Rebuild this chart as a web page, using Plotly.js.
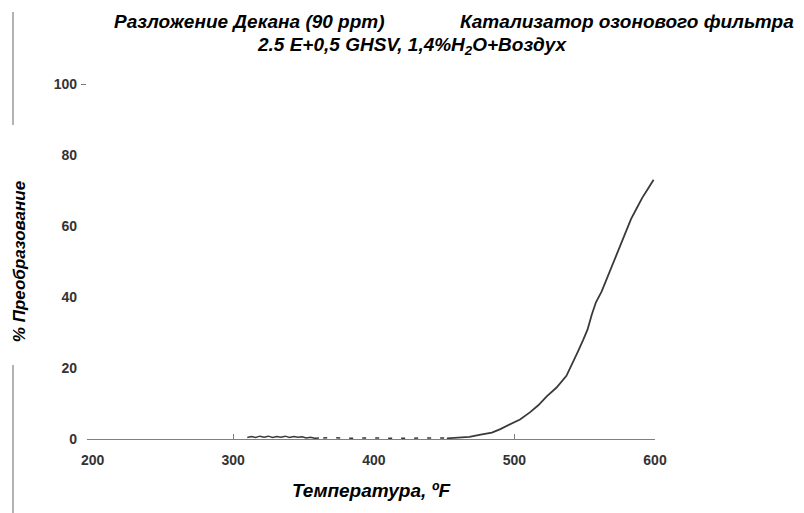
<!DOCTYPE html>
<html><head><meta charset="utf-8">
<script src="https://cdn.plot.ly/plotly-3.0.1.min.js"></script>
<style>html,body{margin:0;padding:0;background:#fff}#chart{width:804px;height:513px}</style>
</head><body><div id="chart"></div>
<script>
// Noisy baseline segment (solid)
const tempBase = [310,313,316,319,322,325,328,331,334,337,340,343,346,349,352,355,358,361];
const convBase = [0.4,0.7,0.4,0.8,0.5,0.8,0.4,0.7,0.5,0.8,0.4,0.7,0.5,0.6,0.3,0.5,0.2,0.3];
// Sparse baseline segment (broken)
const tempLow = [364,372,380,388,396,404,412,420,428,436,444,452];
const convLow = [0.3,0.4,0.2,0.3,0.2,0.3,0.2,0.2,0.3,0.2,0.3,0.3];
// Light-off curve
const tempRise = [452,460,468,476,484,490,497,504,511,517,523,530,537,541,545,549,552,555,558,562,566,570,574,578,583,587,591,595,599];
const convRise = [0.2,0.4,0.6,1.2,1.8,2.8,4.2,5.5,7.5,9.5,12,14.5,17.8,21,24.5,28,30.8,35,38.5,41.5,45.5,49.5,53.5,57,62,65,68,70.5,73];
const xTicks = [200,300,400,500,600];
const yTicks = [0,20,40,60,80,100];

const lineC = '#3a3a3a';
const traces = [
  {x: tempBase, y: convBase, mode: 'lines', line: {color: lineC, width: 1.5}, hoverinfo: 'skip'},
  {x: tempLow, y: convLow, mode: 'lines', line: {color: lineC, width: 1.5, dash: '4px,9px'}, hoverinfo: 'skip'},
  {x: tempRise, y: convRise, mode: 'lines', line: {color: lineC, width: 1.8}, hoverinfo: 'skip'},
  {x: [300], y: [0], xaxis: 'x2', yaxis: 'y2', mode: 'markers', marker: {opacity: 0}, hoverinfo: 'skip'}
];

const fam = 'Liberation Sans, Arial, sans-serif';
const tickFont = {family: fam, size: 14, color: '#333', weight: 'bold'};
const titleFont = {family: fam, size: 19, color: '#000', style: 'italic', weight: 'bold'};
const layout = {
  width: 804, height: 513,
  margin: {l: 87, r: 149, t: 84, b: 74},
  paper_bgcolor: '#fff', plot_bgcolor: '#fff',
  showlegend: false,
  xaxis: {
    range: [196, 600], tickvals: xTicks, ticktext: xTicks.map(String),
    showgrid: false, zeroline: false, showline: true, linecolor: '#808080', linewidth: 1,
    ticks: '', ticklabelstandoff: 8, tickfont: tickFont,
    title: {text: 'Температура, ºF', font: {family: fam, size: 19, color: '#000', style: 'italic', weight: 'bold'}, standoff: 16}
  },
  yaxis: {
    range: [0, 100], tickvals: yTicks, ticktext: yTicks.map(String),
    showgrid: false, zeroline: false, showline: false,
    ticks: '', ticklabelstandoff: 9, tickfont: tickFont,
    title: {text: '% Преобразование', font: {family: fam, size: 17, color: '#000', style: 'italic', weight: 'bold'}, standoff: 23}
  },
  xaxis2: {
    overlaying: 'x', matches: 'x', anchor: 'y2', tickvals: [300, 500], ticks: 'inside', ticklen: 5, tickcolor: '#808080',
    showticklabels: false, showgrid: false, zeroline: false, showline: false
  },
  yaxis2: {
    overlaying: 'y', matches: 'y', anchor: 'x2', tickvals: [100], ticks: 'outside', ticklen: 5, tickcolor: '#777',
    showticklabels: false, showgrid: false, zeroline: false, showline: false
  },
  annotations: [
    {xref: 'paper', yref: 'paper', x: (112-87)/568, y: (439-21)/355, xanchor: 'left', yanchor: 'middle', showarrow: false,
     text: 'Разложение Декана (90 ppm)', font: titleFont},
    {xref: 'paper', yref: 'paper', x: (458-87)/568, y: (439-21)/355, xanchor: 'left', yanchor: 'middle', showarrow: false,
     text: 'Катализатор озонового фильтра', font: titleFont},
    {xref: 'paper', yref: 'paper', x: (412-87)/568, y: (439-46)/355, xanchor: 'center', yanchor: 'middle', showarrow: false,
     text: '2.5 E+0,5 GHSV, 1,4%H<sub>2</sub>O+Воздух', font: titleFont}
  ],
  shapes: [
    {type: 'line', xref: 'paper', yref: 'paper', x0: (13-87)/568, x1: (13-87)/568, y0: (439-12)/355, y1: (439-125)/355, line: {color: '#9a9a9a', width: 1.5}},
    {type: 'line', xref: 'paper', yref: 'paper', x0: (13-87)/568, x1: (13-87)/568, y0: (439-365)/355, y1: (439-513)/355, line: {color: '#9a9a9a', width: 1.5}}
  ]
};
Plotly.newPlot('chart', traces, layout, {displayModeBar: false, staticPlot: true});
</script></body></html>
